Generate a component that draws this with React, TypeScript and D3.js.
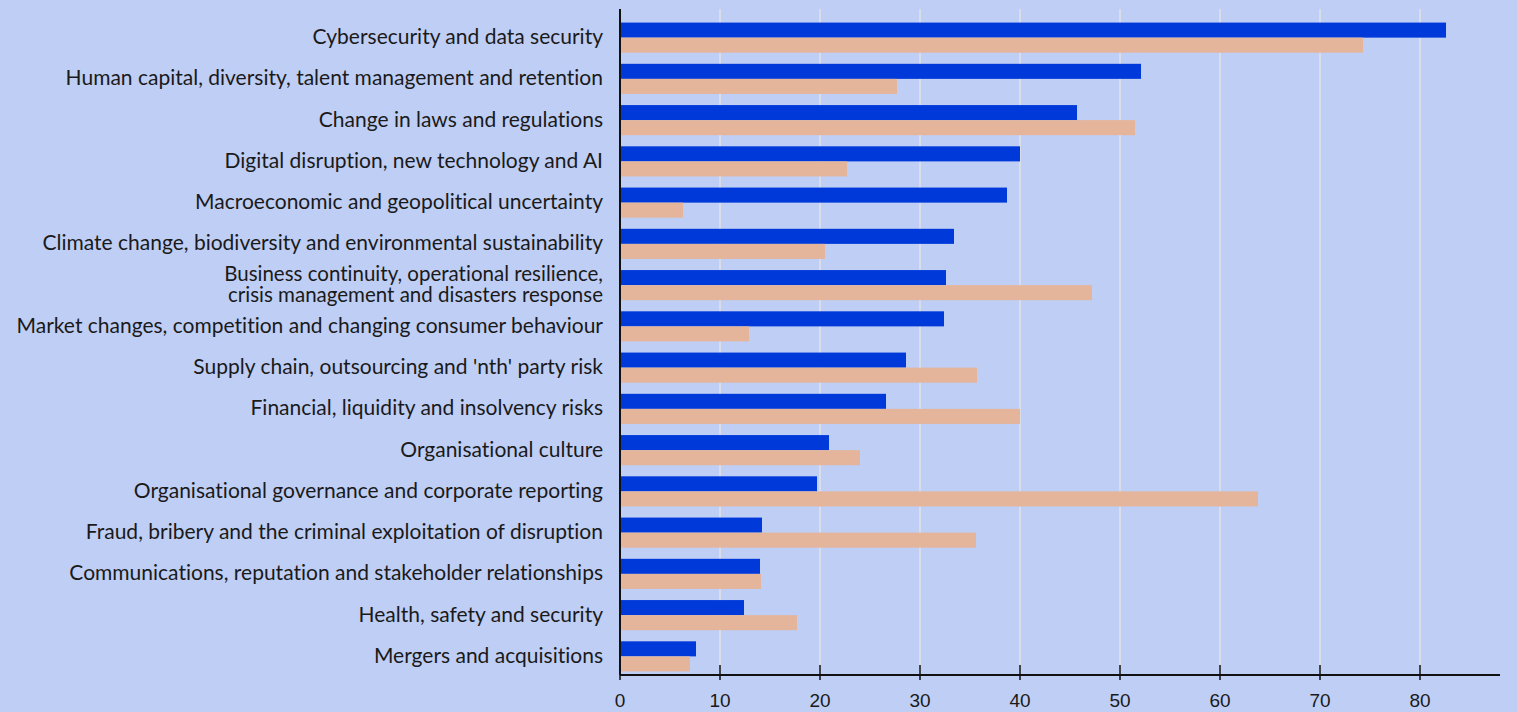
import React from "react";
import * as d3 from "d3";

const categories = [
  "Cybersecurity and data security",
  "Human capital, diversity, talent management and retention",
  "Change in laws and regulations",
  "Digital disruption, new technology and AI",
  "Macroeconomic and geopolitical uncertainty",
  "Climate change, biodiversity and environmental sustainability",
  "Business continuity, operational resilience,\ncrisis management and disasters response",
  "Market changes, competition and changing consumer behaviour",
  "Supply chain, outsourcing and 'nth' party risk",
  "Financial, liquidity and insolvency risks",
  "Organisational culture",
  "Organisational governance and corporate reporting",
  "Fraud, bribery and the criminal exploitation of disruption",
  "Communications, reputation and stakeholder relationships",
  "Health, safety and security",
  "Mergers and acquisitions",
];

const seriesBlue = [82.6, 52.1, 45.7, 40.0, 38.7, 33.4, 32.6, 32.4, 28.6, 26.6, 20.9, 19.7, 14.2, 14.0, 12.4, 7.6];
const seriesSalmon = [74.3, 27.7, 51.5, 22.7, 6.3, 20.5, 47.2, 12.9, 35.7, 40.0, 24.0, 63.8, 35.6, 14.1, 17.7, 7.0];
const xTicks = [0, 10, 20, 30, 40, 50, 60, 70, 80];

const W = 1517;
const H = 712;
const left = 620;
const right = 1500;
const top = 9;
const bottom = 675;

export default function App() {
  const x = d3.scaleLinear().domain([0, 88]).range([left, right]);
  const y = d3
    .scaleBand<string>()
    .domain(categories)
    .range([17, 677])
    .paddingInner(0.27)
    .paddingOuter(0.135);
  const bw = y.bandwidth() / 2;

  return (
    <svg
      width={W}
      height={H}
      style={{ position: "absolute", left: 0, top: 0, display: "block", background: "#bfcef5" }}
    >
      <rect x={0} y={0} width={W} height={H} fill="#bfcef5" />
      {xTicks.map((t) => (
        <line key={"g" + t} x1={x(t)} x2={x(t)} y1={top} y2={bottom} stroke="#e2e2e6" strokeWidth={1.5} />
      ))}
      {categories.map((c, i) => (
        <g key={c}>
          <rect x={x(0)} y={y(c)!} width={x(seriesBlue[i]) - x(0)} height={bw} fill="#0039d9" />
          <rect x={x(0)} y={y(c)! + bw} width={x(seriesSalmon[i]) - x(0)} height={bw} fill="#e4b59b" />
        </g>
      ))}
      {categories.map((c) => {
        const lines = c.split("\n");
        const cy = y(c)! + y.bandwidth() / 2;
        const lh = 21;
        return (
          <text
            key={"l" + c}
            x={603}
            y={cy + 6.5 - ((lines.length - 1) * lh) / 2}
            textAnchor="end"
            fontFamily="Lato, sans-serif"
            fontSize={lines.length > 1 ? 20.5 : 21}
            fill="#1a1a1a"
            style={{ fontVariantLigatures: "none" }}
          >
            {lines.map((l, k) => (
              <tspan key={k} x={603} dy={k === 0 ? 0 : lh}>
                {l}
              </tspan>
            ))}
          </text>
        );
      })}
      <line x1={left} x2={left} y1={top} y2={bottom} stroke="#111" strokeWidth={2} />
      <line x1={left} x2={right} y1={bottom} y2={bottom} stroke="#111" strokeWidth={2} />
      {xTicks.map((t) => (
        <g key={"t" + t}>
          <line x1={x(t)} x2={x(t)} y1={bottom - 10} y2={bottom + 5} stroke="#111" strokeWidth={1.5} />
          <text
            x={x(t)}
            y={707}
            textAnchor="middle"
            fontFamily="'Liberation Sans', Arial, sans-serif"
            fontSize={19}
            fill="#1a1a1a"
          >
            {t}
          </text>
        </g>
      ))}
    </svg>
  );
}
